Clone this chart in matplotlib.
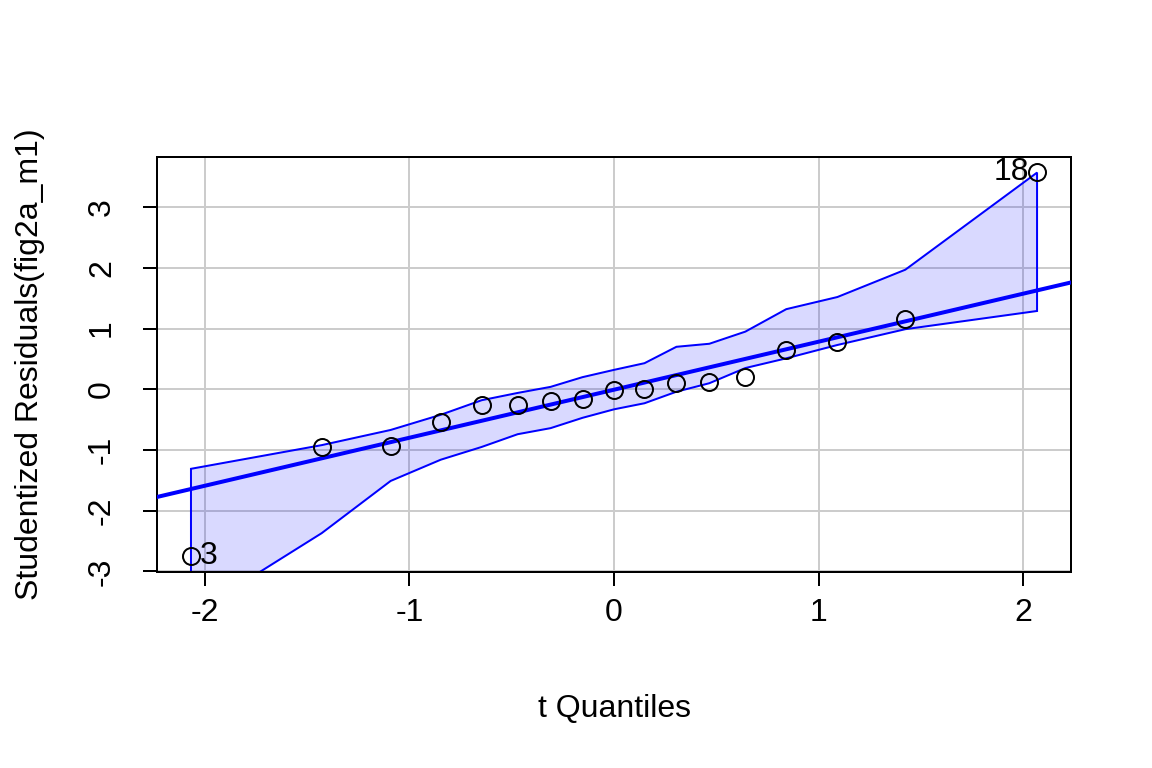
import numpy as np
import matplotlib.pyplot as plt

plt.rcParams['font.family'] = ['Liberation Sans', 'DejaVu Sans']
plt.rcParams['axes.unicode_minus'] = False

# t quantiles and ordered studentized residuals
t_quant = [-2.068, -1.429, -1.092, -0.847, -0.647, -0.471, -0.310, -0.154, 0.0,
           0.149, 0.305, 0.466, 0.642, 0.842, 1.092, 1.424, 2.068]
stud_res = [-2.75, -0.95, -0.93, -0.54, -0.26, -0.26, -0.19, -0.16, -0.01,
            0.0, 0.10, 0.12, 0.20, 0.65, 0.78, 1.16, 3.58]
env_upper = [-1.31, -0.92, -0.67, -0.42, -0.18, -0.06, 0.04, 0.20, 0.32,
             0.43, 0.70, 0.75, 0.95, 1.32, 1.52, 1.97, 3.57]
env_lower = [-3.72, -2.37, -1.51, -1.16, -0.95, -0.74, -0.64, -0.47, -0.33,
             -0.23, -0.04, 0.10, 0.35, 0.51, 0.73, 0.99, 1.29]
fit_intercept = -0.007
fit_slope = 0.791
point_labels = {0: '3', 16: '18'}

fig = plt.figure(figsize=(8, 16 / 3), dpi=144)
ax = fig.add_axes([0.1363, 0.2552, 0.9297 - 0.1363, 0.7956 - 0.2552])

ax.set_xlim(-2.234, 2.234)
ax.set_ylim(-3.01, 3.827)
ax.set_xticks([-2, -1, 0, 1, 2])
ax.set_yticks([-3, -2, -1, 0, 1, 2, 3])
ax.grid(True, color='#cccccc', linewidth=1.0)
ax.set_axisbelow(True)

x = np.array(t_quant)
xs = np.concatenate([x, x[::-1]])
ys = np.concatenate([env_lower, env_upper[::-1]])
ax.fill(xs, ys, facecolor=(0, 0, 1, 0.15), edgecolor='blue', linewidth=1.0, zorder=2)

xl = np.array(ax.get_xlim())
ax.plot(xl, fit_intercept + fit_slope * xl, color='blue', linewidth=2.0, zorder=3)

ax.plot(t_quant, stud_res, 'o', mfc='none', mec='black', ms=8.5, mew=1.0, zorder=4,
        clip_on=False)
for i, lab in point_labels.items():
    if t_quant[i] < 0:
        ax.text(t_quant[i] + 0.045, stud_res[i], lab, fontsize=16, va='center', ha='left')
    else:
        ax.text(t_quant[i] - 0.04, stud_res[i], lab, fontsize=16, va='center', ha='right')

for s in ax.spines.values():
    s.set_linewidth(1.0)
ax.tick_params(length=7, width=1.0, labelsize=16)
ax.tick_params(axis='x', pad=6)
ax.tick_params(axis='y', pad=13)
for lab in ax.get_yticklabels():
    lab.set_rotation(90)
    lab.set_va('center')

ax.set_xlabel('t Quantiles', fontsize=16, labelpad=33)
ax.set_ylabel('Studentized Residuals(fig2a_m1)', fontsize=16, labelpad=21)

fig.savefig('out.png', dpi=144)
